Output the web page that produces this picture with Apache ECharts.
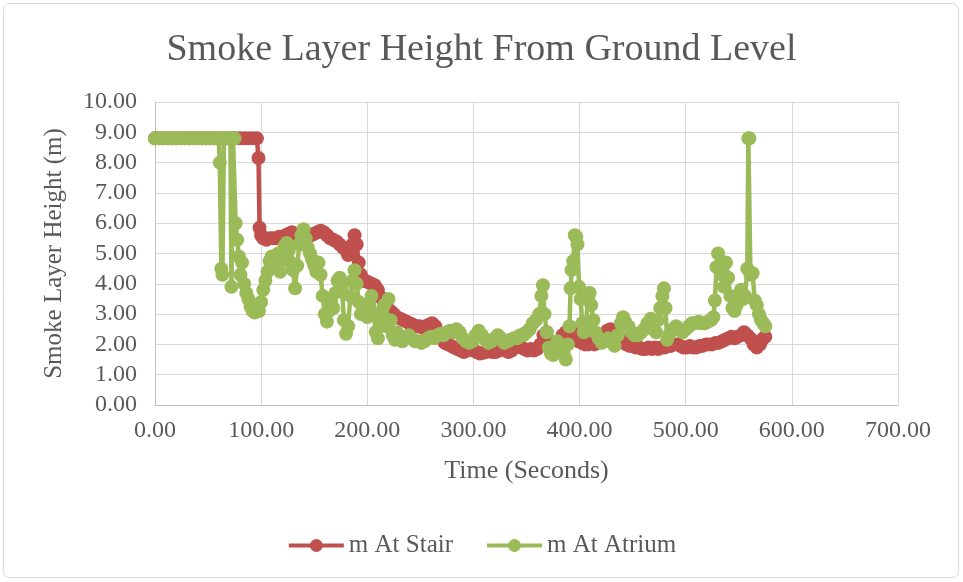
<!DOCTYPE html>
<html>
<head>
<meta charset="utf-8">
<title>Smoke Layer Height From Ground Level</title>
<script src="https://cdn.jsdelivr.net/npm/echarts@6/dist/echarts.min.js"></script>
<style>
  html, body { margin: 0; padding: 0; background: #ffffff; }
  #chart { width: 963px; height: 582px; }
</style>
</head>
<body>
<div id="chart"></div>
<script>
// Smoke layer height (m) over time (s), measured at the stair and at the atrium.
const stairTime = [
  0, 4, 8, 12, 16, 20, 24, 28, 32, 36, 40, 44, 48, 52, 56, 60, 64, 68, 72, 76, 80, 84, 88, 92, 96,
  97.5, 98.5, 100, 102, 105, 108, 111, 114, 117, 120, 123, 126, 129, 132, 135, 138, 141, 144, 147,
  150, 153, 156, 159, 162, 165, 168, 171, 174, 177, 180, 182, 184, 186, 188, 190, 192, 194, 196, 198,
  201, 204, 207, 210, 213, 216, 219, 222, 225, 228, 231, 234, 237, 240, 243, 246, 249, 252, 255, 258,
  261, 264, 267, 270, 273, 276, 279, 282, 285, 288, 291, 294, 297, 300, 303, 306, 309, 312, 315, 318,
  321, 324, 327, 330, 333, 336, 339, 342, 345, 348, 351, 354, 357, 360, 363, 366, 369, 372, 375, 378,
  381, 384, 387, 390, 393, 396, 399, 402, 405, 408, 411, 414, 417, 420, 423, 426, 429, 432, 435, 438,
  441, 444, 447, 450, 453, 456, 459, 462, 465, 468, 471, 474, 477, 480, 483, 486, 489, 492, 495, 498,
  501, 504, 507, 510, 513, 516, 519, 522, 525, 528, 531, 534, 537, 540, 543, 546, 549, 552, 555, 558,
  561, 564, 567, 570, 573, 575
];
const stairHeight = [
  8.8, 8.8, 8.8, 8.8, 8.8, 8.8, 8.8, 8.8, 8.8, 8.8, 8.8, 8.8, 8.8, 8.8, 8.8, 8.8, 8.8, 8.8, 8.8, 8.8, 8.8, 8.8, 8.8, 8.8, 8.8,
  8.15, 5.85, 5.6, 5.5, 5.45, 5.5, 5.5, 5.5, 5.55, 5.5, 5.6, 5.65, 5.7, 5.65, 5.6, 5.6, 5.55, 5.6, 5.6,
  5.65, 5.7, 5.75, 5.7, 5.6, 5.5, 5.45, 5.4, 5.3, 5.2, 5.1, 4.95, 5.0, 5.3, 5.6, 5.3, 4.7, 4.3, 4.1, 4.1,
  4.05, 4.0, 3.95, 3.8, 3.55, 3.35, 3.2, 3.1, 3.0, 2.9, 2.85, 2.8, 2.75, 2.7, 2.65, 2.6, 2.6, 2.55, 2.6, 2.65,
  2.7, 2.6, 2.4, 2.2, 2.05, 2.0, 1.95, 1.9, 1.85, 1.8, 1.75, 1.8, 1.85, 1.8, 1.75, 1.7, 1.72, 1.75, 1.8, 1.75,
  1.75, 1.8, 1.85, 1.8, 1.75, 1.8, 1.9, 1.95, 1.9, 1.85, 1.8, 1.85, 1.8, 1.85, 2.0, 2.3, 2.4, 2.1, 1.9, 1.95,
  2.1, 2.3, 2.4, 2.45, 2.4, 2.3, 2.1, 2.05, 2.0, 2.0, 2.05, 2.0, 2.05, 2.1, 2.3, 2.45, 2.5, 2.4, 2.3, 2.2,
  2.1, 2.0, 1.95, 1.95, 1.9, 1.9, 1.85, 1.85, 1.9, 1.85, 1.9, 1.85, 1.9, 1.9, 1.95, 1.95, 2.0, 2.0, 1.95, 1.9,
  1.9, 1.95, 1.9, 1.9, 1.95, 1.95, 2.0, 2.0, 2.0, 2.05, 2.05, 2.1, 2.15, 2.2, 2.25, 2.2, 2.25, 2.3, 2.4, 2.3,
  2.2, 2.0, 1.9, 2.0, 2.2, 2.25
];

const atriumTime = [
  0, 4, 8, 12, 16, 20, 24, 28, 32, 36, 40, 44, 48, 52, 56, 60,
  61, 62.5, 63.5, 65, 67, 69, 71, 72, 73.5, 75, 76, 77.5, 79, 80.5, 82, 84, 86, 88, 90, 92, 94, 96, 98,
  100, 102, 104, 106, 108, 110, 112, 114, 116, 118, 120, 122, 124, 126, 128, 130, 132, 134, 136, 138,
  140, 142, 144, 146, 148, 150, 152, 154, 156, 158, 160, 162, 164, 166, 168, 170, 172, 174, 176, 178,
  180, 182, 184, 186, 188, 190, 192, 194, 196, 198, 200, 202, 204, 206, 208, 210, 212, 214, 216, 218,
  220, 222, 224, 226, 228, 230, 233, 236, 239, 242, 245, 248, 251, 254, 257, 260, 263, 266, 269, 272,
  275, 278, 281, 284, 287, 290, 293, 296, 299, 302, 305, 308, 311, 314, 317, 320, 323, 326, 329, 332,
  335, 338, 341, 344, 347, 350, 353, 356, 359, 362, 364, 365.5, 367, 369, 371, 373, 375, 377, 379, 381,
  383, 385, 387, 389, 390.5, 391.5, 392.5, 394, 395.5, 397, 398, 399.5, 401, 402.5, 404, 406, 408, 409.5,
  411, 413, 415, 418, 421, 424, 427, 430, 433, 436, 439, 441, 443, 446, 449, 452, 455, 458, 461, 464,
  467, 470, 472, 474, 476, 478, 479.5, 481, 482.5, 485, 488, 491, 494, 497, 500, 503, 506, 509, 512,
  515, 518, 521, 524, 526, 527.5, 529, 530.5, 532, 534, 536, 538, 540, 542, 544, 546, 548, 550, 552,
  554, 556, 558, 559, 560, 561, 563, 565, 567, 569, 571, 573, 575
];
const atriumHeight = [
  8.8, 8.8, 8.8, 8.8, 8.8, 8.8, 8.8, 8.8, 8.8, 8.8, 8.8, 8.8, 8.8, 8.8, 8.8, 8.8,
  8.0, 4.5, 4.3, 8.8, 8.8, 8.8, 8.8, 3.9, 8.8, 8.8, 6.0, 5.45, 4.9, 4.3, 4.7, 4.0, 3.7, 3.5, 3.25, 3.1, 3.05, 3.1, 3.1,
  3.4, 3.8, 4.1, 4.4, 4.75, 4.9, 4.6, 4.8, 5.0, 4.4, 4.8, 5.25, 5.35, 5.1, 4.7, 4.45, 3.85, 4.6, 5.3, 5.6,
  5.8, 5.5, 5.2, 5.0, 4.8, 4.6, 4.4, 4.7, 4.3, 3.6, 3.0, 2.75, 3.1, 3.4, 3.2, 3.7, 4.1, 4.2, 3.9, 2.8,
  2.35, 2.6, 3.6, 4.1, 4.45, 4.0, 3.4, 3.0, 3.25, 3.0, 2.9, 3.3, 3.6, 3.0, 2.4, 2.2, 2.7, 3.1, 3.3, 2.6,
  3.5, 2.8, 2.3, 2.15, 2.4, 2.2, 2.1, 2.2, 2.3, 2.2, 2.1, 2.1, 2.05, 2.1, 2.2, 2.25, 2.2, 2.3, 2.35, 2.3,
  2.4, 2.45, 2.4, 2.5, 2.4, 2.2, 2.1, 2.05, 2.1, 2.3, 2.45, 2.3, 2.15, 2.05, 2.1, 2.2, 2.3, 2.2, 2.05, 2.1,
  2.15, 2.2, 2.2, 2.3, 2.3, 2.4, 2.5, 2.7, 2.8, 3.0, 3.6, 3.95, 3.0, 2.4, 1.9, 1.7, 1.65, 1.9, 2.1, 2.0,
  1.9, 1.7, 1.5, 2.0, 2.6, 3.85, 4.45, 4.75, 5.6, 5.55, 5.3, 3.9, 3.5, 2.7, 2.4, 2.7, 3.5, 3.7,
  3.3, 2.8, 2.4, 2.2, 2.05, 2.1, 2.2, 2.1, 1.95, 2.3, 2.7, 2.9, 2.75, 2.6, 2.4, 2.3, 2.3, 2.4, 2.5, 2.7,
  2.85, 2.7, 2.4, 2.8, 3.2, 3.6, 3.85, 3.2, 2.15, 2.35, 2.5, 2.6, 2.5, 2.4, 2.5, 2.6, 2.7, 2.7, 2.75,
  2.7, 2.7, 2.75, 2.8, 2.9, 3.45, 4.55, 5.0, 4.6, 4.3, 3.9, 4.7, 4.2, 3.6, 3.2, 3.1, 3.3, 3.5, 3.8,
  3.5, 3.6, 4.5, 8.8, 8.8, 4.3, 4.35, 3.45, 3.3, 3.0, 2.8, 2.7, 2.6
];

const seriesNames = ['m At Stair', 'm At Atrium'];
const seriesColors = ['#C0504D', '#9BBB59'];

const xTicks = { min: 0, max: 700, interval: 100 };
const yTicks = { min: 0, max: 10, interval: 1 };

const zip = (xs, ys) => xs.map((x, i) => [x, ys[i]]);

const FONT = '"Liberation Serif", serif';
const TEXT_COLOR = '#595959';

const chart = echarts.init(document.getElementById('chart'), null, { renderer: 'canvas' });

const lineSeries = (name, color, data) => ({
  name,
  type: 'line',
  data,
  symbol: 'circle',
  symbolSize: 14,
  showAllSymbol: true,
  lineStyle: { color, width: 4.5 },
  itemStyle: { color },
  emphasis: { disabled: true },
  animation: false
});

chart.setOption({
  backgroundColor: '#ffffff',
  animation: false,
  title: {
    text: 'Smoke Layer Height From Ground Level',
    left: 'center',
    top: 26,
    textStyle: { fontFamily: FONT, fontSize: 38, fontWeight: 'normal', color: TEXT_COLOR }
  },
  graphic: [{
    type: 'rect',
    shape: { x: 3.5, y: 3.5, width: 955, height: 574, r: 6 },
    style: { fill: 'none', stroke: '#d9d9d9', lineWidth: 1 },
    silent: true
  }],
  legend: {
    bottom: 19,
    left: 'center',
    itemWidth: 55,
    itemHeight: 16,
    itemGap: 32,
    lineStyle: { width: 4 },
    textStyle: { fontFamily: FONT, fontSize: 25, color: TEXT_COLOR },
    data: seriesNames
  },
  grid: { left: 155, right: 65, top: 102, bottom: 177, containLabel: false },
  xAxis: {
    type: 'value',
    min: xTicks.min,
    max: xTicks.max,
    interval: xTicks.interval,
    name: 'Time (Seconds)',
    nameLocation: 'middle',
    nameGap: 53,
    nameTextStyle: { fontFamily: FONT, fontSize: 26, color: TEXT_COLOR },
    axisLine: { show: true, lineStyle: { color: '#bfbfbf', width: 1 } },
    axisTick: { show: false },
    axisLabel: {
      fontFamily: FONT, fontSize: 24, color: TEXT_COLOR, margin: 14,
      formatter: v => v.toFixed(2)
    },
    splitLine: { show: true, lineStyle: { color: '#d9d9d9', width: 1 } }
  },
  yAxis: {
    type: 'value',
    min: yTicks.min,
    max: yTicks.max,
    interval: yTicks.interval,
    name: 'Smoke Layer Height (m)',
    nameLocation: 'middle',
    nameGap: 88,
    nameTextStyle: { fontFamily: FONT, fontSize: 25, color: TEXT_COLOR },
    axisLine: { show: true, lineStyle: { color: '#bfbfbf', width: 1 } },
    axisTick: { show: false },
    axisLabel: {
      fontFamily: FONT, fontSize: 24, color: TEXT_COLOR, margin: 18,
      formatter: v => v.toFixed(2)
    },
    splitLine: { show: true, lineStyle: { color: '#d9d9d9', width: 1 } }
  },
  series: [
    lineSeries(seriesNames[0], seriesColors[0], zip(stairTime, stairHeight)),
    lineSeries(seriesNames[1], seriesColors[1], zip(atriumTime, atriumHeight))
  ]
});
</script>
</body>
</html>
